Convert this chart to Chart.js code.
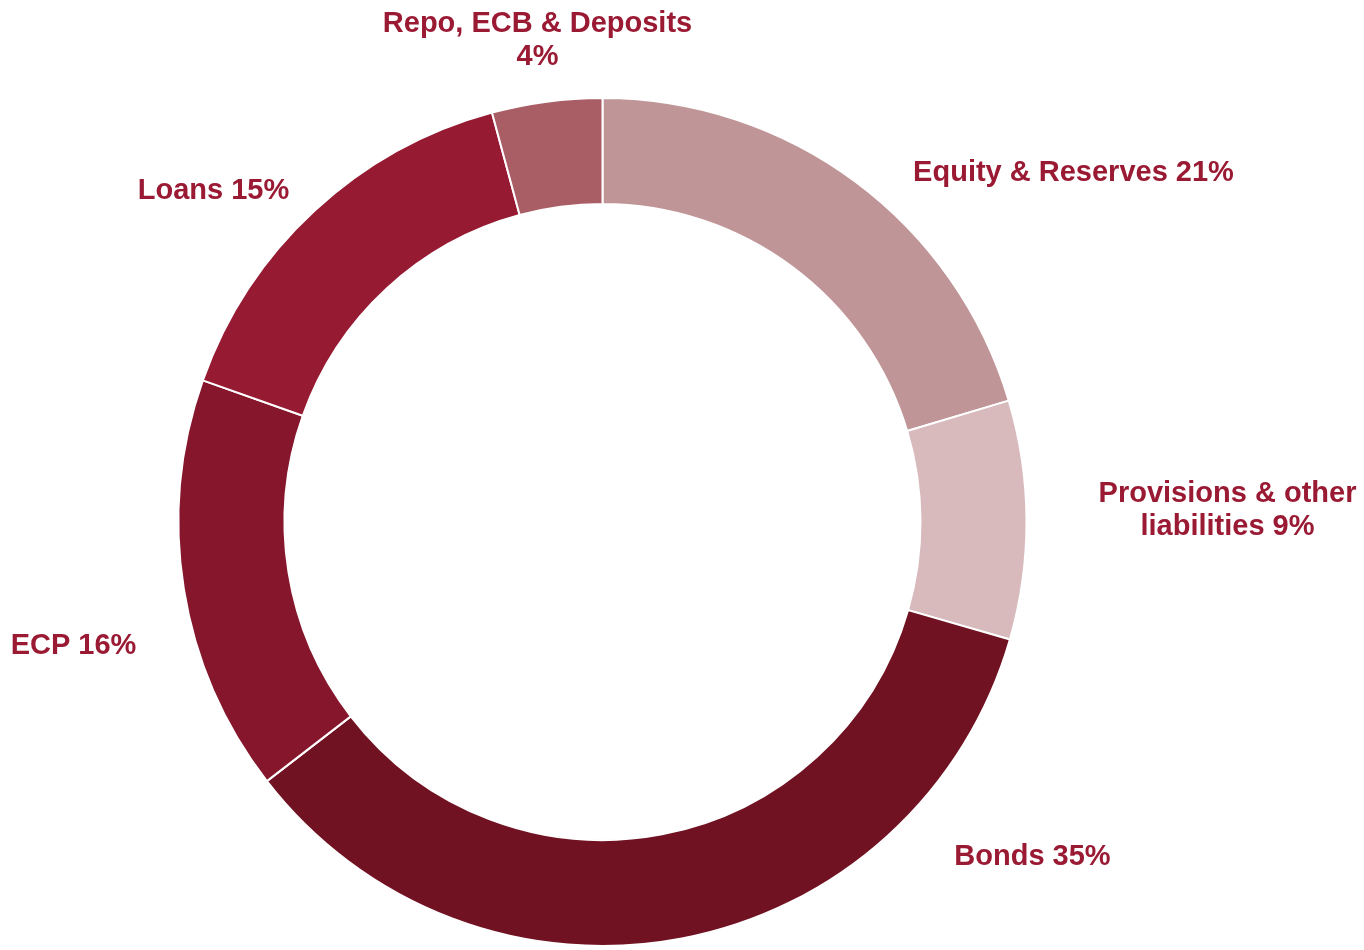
<!DOCTYPE html>
<html>
<head>
<meta charset="utf-8">
<script src="https://cdn.jsdelivr.net/npm/chart.js@4/dist/chart.umd.min.js"></script>
<style>
  html, body { margin: 0; padding: 0; background: #ffffff; }
  #wrap { width: 1364px; height: 950px; position: relative; }
</style>
</head>
<body>
<div id="wrap"><canvas id="myChart"></canvas></div>
<script>
// Liability structure, clockwise from 12 o'clock
const categories = [
    "Equity & Reserves",
    "Provisions & other liabilities",
    "Bonds",
    "ECP",
    "Loans",
    "Repo, ECB & Deposits"
];
const shares = [20.4, 9.1, 35.1, 15.9, 15.4, 4.2];
const shareLabels = ["21%", "9%", "35%", "16%", "15%", "4%"];
const sliceColors = ["#c09597", "#d8babd", "#701222", "#85162b", "#961a32", "#a95e66"];

// label text lines as laid out on the slide
const labelLines = [
    ["Equity & Reserves 21%"],
    ["Provisions & other", "liabilities 9%"],
    ["Bonds 35%"],
    ["ECP 16%"],
    ["Loans 15%"],
    ["Repo, ECB & Deposits", "4%"]
];

// label anchor offsets from the ring centre (manual placement, like the original)
const labelOffsets = [
    [471, -349],
    [625, -12],
    [430, 335],
    [-529, 124],
    [-389, -331],
    [-65, -482]
];

/**
 * Draws the outside labels next to each slice.
 */
const outsideLabels = {
    id: "outsideLabels",
    afterDraw(chart) {
        const ctx = chart.ctx;
        const arc = chart.getDatasetMeta(0).data[0];
        if (!arc) return;
        const cx = arc.x;
        const cy = arc.y;
        const lineH = 33;
        ctx.save();
        ctx.font = "bold 29px 'Liberation Sans', Arial, sans-serif";
        ctx.fillStyle = "#9a1a33";
        ctx.textAlign = "center";
        ctx.textBaseline = "middle";
        labelLines.forEach((lines, i) => {
            const [dx, dy] = labelOffsets[i];
            const top = cy + dy - (lines.length - 1) * lineH / 2;
            lines.forEach((line, j) => {
                ctx.fillText(line, cx + dx, top + j * lineH);
            });
        });
        ctx.restore();
    }
};

const ctx = document.getElementById("myChart").getContext("2d");
new Chart(ctx, {
    type: "doughnut",
    data: {
        labels: categories.map((c, i) => `${c} ${shareLabels[i]}`),
        datasets: [{
            data: shares,
            backgroundColor: sliceColors,
            borderColor: "#ffffff",
            borderWidth: 2
        }]
    },
    options: {
        responsive: true,
        maintainAspectRatio: false,
        animation: false,
        cutout: "75%",
        rotation: 0,
        layout: {
            padding: { top: 97, bottom: 3, left: 0, right: 159 }
        },
        plugins: {
            legend: { display: false },
            tooltip: { enabled: false }
        }
    },
    plugins: [outsideLabels]
});
</script>
</body>
</html>
